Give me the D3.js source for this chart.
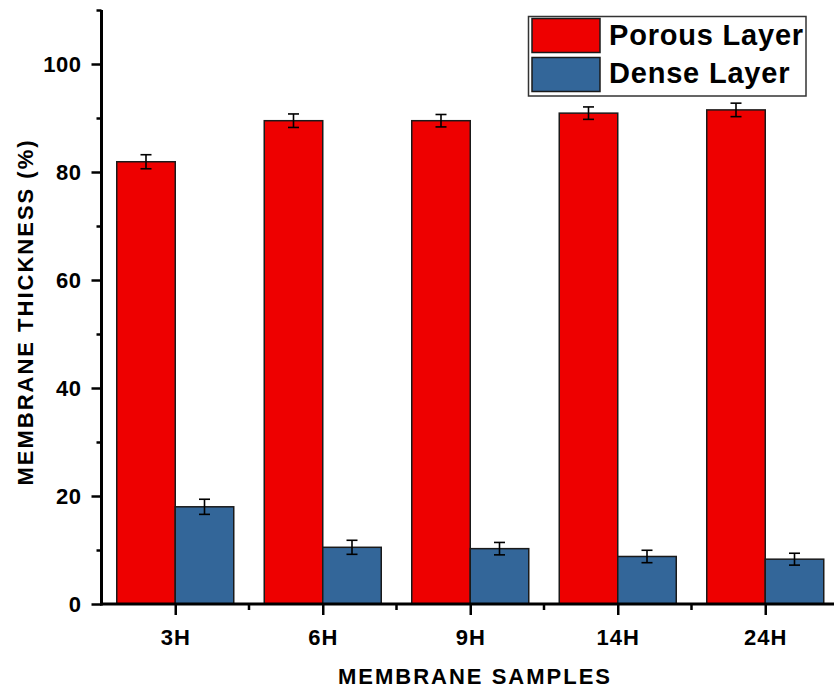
<!DOCTYPE html>
<html>
<head>
<meta charset="utf-8">
<script src="https://cdn.jsdelivr.net/npm/d3@7/dist/d3.min.js"></script>
<style>
  html, body { margin: 0; padding: 0; background: #fff; }
  svg { display: block; font-family: "Liberation Sans", Arial, sans-serif; }
</style>
</head>
<body>
<svg id="chart" width="834" height="689"></svg>
<script>
// ---- data ----
const categories = ["3H", "6H", "9H", "14H", "24H"];
const seriesNames = ["Porous Layer", "Dense Layer"];
const porousValues = [81.9, 89.5, 89.5, 90.9, 91.5];
const porousErrors = [1.3, 1.25, 1.15, 1.15, 1.25];
const denseValues = [18.0, 10.5, 10.25, 8.8, 8.3];
const denseErrors = [1.4, 1.3, 1.15, 1.15, 1.1];
const yMajorTicks = [0, 20, 40, 60, 80, 100];
const yMinorTicks = [10, 30, 50, 70, 90, 110];
const seriesColors = ["#ee0000", "#336699"];

const svg = d3.select("#chart");
const x0 = 101.5, x1 = 839, yTop = 10, yBottom = 604;

const x = d3.scaleBand().domain(categories).range([x0, x1]).padding(0);
const xs = d3.scaleBand().domain(seriesNames).range([-58.5, 58.5]).padding(0);
const y = d3.scaleLinear().domain([0, 110]).range([yBottom, yTop]);

const series = [
  { name: seriesNames[0], values: porousValues, errors: porousErrors, color: seriesColors[0] },
  { name: seriesNames[1], values: denseValues, errors: denseErrors, color: seriesColors[1] }
];
const center = c => x(c) + x.bandwidth() / 2;

// bars
series.forEach(s => {
  svg.append("g").selectAll("rect").data(categories).join("rect")
    .attr("x", c => center(c) + xs(s.name))
    .attr("y", (c, i) => y(s.values[i]))
    .attr("width", xs.bandwidth())
    .attr("height", (c, i) => yBottom - y(s.values[i]))
    .attr("fill", s.color)
    .attr("stroke", "#1a1a1a")
    .attr("stroke-width", 1.5);
});

// error bars
series.forEach(s => {
  const g = svg.append("g").attr("stroke", "#000").attr("stroke-width", 1.6).attr("fill", "none");
  categories.forEach((c, i) => {
    const cx = center(c) + xs(s.name) + xs.bandwidth() / 2;
    const hi = y(s.values[i] + s.errors[i]), lo = y(s.values[i] - s.errors[i]);
    g.append("line").attr("x1", cx).attr("x2", cx).attr("y1", hi).attr("y2", lo);
    g.append("line").attr("x1", cx - 5.5).attr("x2", cx + 5.5).attr("y1", hi).attr("y2", hi);
    g.append("line").attr("x1", cx - 5.5).attr("x2", cx + 5.5).attr("y1", lo).attr("y2", lo);
  });
});

// y axis
const yAxis = d3.axisLeft(y).tickValues(yMajorTicks).tickSize(10).tickPadding(10).tickSizeOuter(0);
const gy = svg.append("g").attr("transform", `translate(${x0},0)`).call(yAxis);
gy.select(".domain").remove();
gy.selectAll(".tick line").attr("stroke", "#000").attr("stroke-width", 2.5);
gy.selectAll(".tick text").attr("font-size", 22).attr("font-weight", "bold").attr("fill", "#000")
  .style("letter-spacing", "0.5px");
const gyMinor = d3.axisLeft(y).tickValues(yMinorTicks).tickSize(5).tickFormat("").tickSizeOuter(0);
const gym = svg.append("g").attr("transform", `translate(${x0},0)`).call(gyMinor);
gym.select(".domain").remove();
gym.selectAll(".tick line").attr("stroke", "#000").attr("stroke-width", 2.5);
svg.append("line").attr("x1", x0).attr("x2", x0).attr("y1", yTop).attr("y2", yBottom + 1.5)
  .attr("stroke", "#000").attr("stroke-width", 3);

// x axis
const xAxisScale = d3.scalePoint().domain(categories).range([center(categories[0]), center(categories[categories.length - 1])]);
const xAxis = d3.axisBottom(xAxisScale).tickSize(11).tickPadding(14).tickSizeOuter(0);
const gx = svg.append("g").attr("transform", `translate(0,${yBottom})`).call(xAxis);
gx.select(".domain").remove();
gx.selectAll(".tick line").attr("stroke", "#000").attr("stroke-width", 2.5);
gx.selectAll(".tick text").attr("font-size", 22).attr("font-weight", "bold").attr("fill", "#000")
  .style("letter-spacing", "1px");
// minor x ticks at category boundaries
svg.append("g").selectAll("line").data(categories.slice(1)).join("line")
  .attr("x1", c => x(c)).attr("x2", c => x(c))
  .attr("y1", yBottom).attr("y2", yBottom + 6)
  .attr("stroke", "#000").attr("stroke-width", 2.5);
svg.append("line").attr("x1", x0 - 1.5).attr("x2", 834).attr("y1", yBottom).attr("y2", yBottom)
  .attr("stroke", "#000").attr("stroke-width", 3);

// axis titles
svg.append("text").attr("x", 475).attr("y", 684).attr("text-anchor", "middle")
  .attr("font-size", 22).attr("font-weight", "bold").style("letter-spacing", "2px")
  .text("MEMBRANE SAMPLES");
svg.append("text").attr("transform", "translate(33,312) rotate(-90)").attr("text-anchor", "middle")
  .attr("font-size", 22).attr("font-weight", "bold").style("letter-spacing", "2px")
  .text("MEMBRANE THICKNESS (%)");

// legend
const lg = svg.append("g");
lg.append("rect").attr("x", 528.5).attr("y", 16.5).attr("width", 277.5).attr("height", 79.5)
  .attr("fill", "#fff").attr("stroke", "#333").attr("stroke-width", 1.5);
series.forEach((s, i) => {
  lg.append("rect").attr("x", 532).attr("y", 18.5 + i * 39).attr("width", 68).attr("height", 34)
    .attr("fill", s.color).attr("stroke", "#1a1a1a").attr("stroke-width", 1.5);
  lg.append("text").attr("x", 609).attr("y", 45 + i * 37.5)
    .attr("font-size", 29).attr("font-weight", "bold").attr("fill", "#000")
    .style("letter-spacing", "0.8px")
    .text(s.name);
});
</script>
</body>
</html>
